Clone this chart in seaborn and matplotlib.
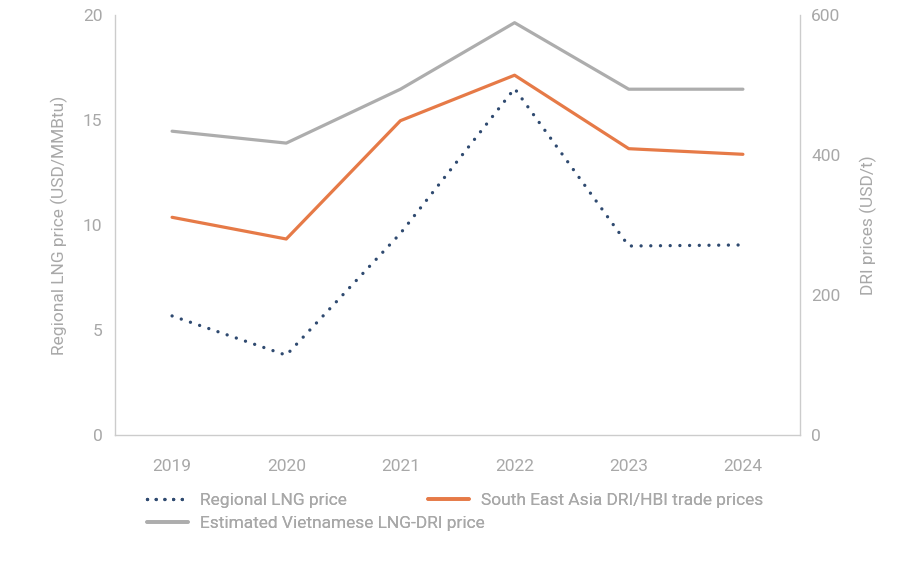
import matplotlib
matplotlib.use("Agg")
import matplotlib.pyplot as plt
import seaborn as sns
import pandas as pd
from matplotlib.lines import Line2D

years = ["2019", "2020", "2021", "2022", "2023", "2024"]
lng_price = [5.67, 3.8, 9.6, 16.5, 9.0, 9.05]
sea_dri_prices = [311, 280, 449, 514, 409, 401]
vn_lng_dri_price = [434, 417, 494, 589, 494, 494]

sns.set_theme(style="white")
plt.rcParams["font.family"] = ["Roboto", "DejaVu Sans"]

TXT = "#a8a8a8"
SP = "#cccccc"
NAVY = "#2f4a70"
ORANGE = "#e67a47"
GREY = "#adadad"
FS = 12.5

fig = plt.figure(figsize=(9.14, 5.62), dpi=100)
ax = fig.add_axes([115/914, 1-435/562, 685/914, 420/562])
ax2 = ax.twinx()

df = pd.DataFrame({"year": years, "lng": lng_price,
                   "sea": sea_dri_prices, "vn": vn_lng_dri_price})
df["x"] = range(len(years))

sns.lineplot(data=df, x="x", y="vn", ax=ax2, color=GREY, lw=2.3)
sns.lineplot(data=df, x="x", y="sea", ax=ax2, color=ORANGE, lw=2.3)
sns.lineplot(data=df, x="x", y="lng", ax=ax, color=NAVY, lw=2.4,
             linestyle=(0, (0.01, 2.9)), dash_capstyle="round")
ax.set_zorder(ax2.get_zorder() + 1)
ax.patch.set_visible(False)
for l in ax.lines:
    l.set_dash_capstyle("round")

ax.set_xlim(-0.5, 5.5)
ax.set_ylim(0, 20)
ax2.set_ylim(0, 600)
ax.set_xticks(range(len(years)))
ax.set_xticklabels(years)
ax.set_yticks([0, 5, 10, 15, 20])
ax2.set_yticks([0, 200, 400, 600])

for a in (ax, ax2):
    for s in a.spines.values():
        s.set_visible(False)
    a.set_xlabel("")
    a.tick_params(length=0, colors=TXT, labelsize=FS)
ax.spines["left"].set_visible(True)
ax.spines["bottom"].set_visible(True)
ax2.spines["right"].set_visible(True)
for s in (ax.spines["left"], ax.spines["bottom"], ax2.spines["right"]):
    s.set_color(SP)
    s.set_linewidth(1.0)
ax.tick_params(axis="y", pad=9)
ax.tick_params(axis="x", pad=17)
ax2.tick_params(axis="y", pad=8)

ax.set_ylabel("Regional LNG price (USD/MMBtu)", color=TXT, fontsize=FS, labelpad=11)
ax2.set_ylabel("DRI prices (USD/t)", color=TXT, fontsize=FS, labelpad=14)

entries = [
    (Line2D([], [], color=NAVY, lw=2.4, linestyle=(0, (0.01, 2.6)), dash_capstyle="round"),
     "Regional LNG price", 147, 500),
    (Line2D([], [], color=ORANGE, lw=2.6),
     "South East Asia DRI/HBI trade prices", 428, 500),
    (Line2D([], [], color=GREY, lw=2.6),
     "Estimated Vietnamese LNG-DRI price", 147, 523),
]
for h, lab, px, py in entries:
    lg = fig.legend([h], [lab], loc="center left",
                    bbox_to_anchor=(px/914, 1-py/562), frameon=False,
                    fontsize=FS, labelcolor=TXT, handlelength=2.36,
                    handletextpad=0.69, borderaxespad=0, borderpad=0)
    fig.add_artist(lg)

fig.savefig("out.png", dpi=100)
